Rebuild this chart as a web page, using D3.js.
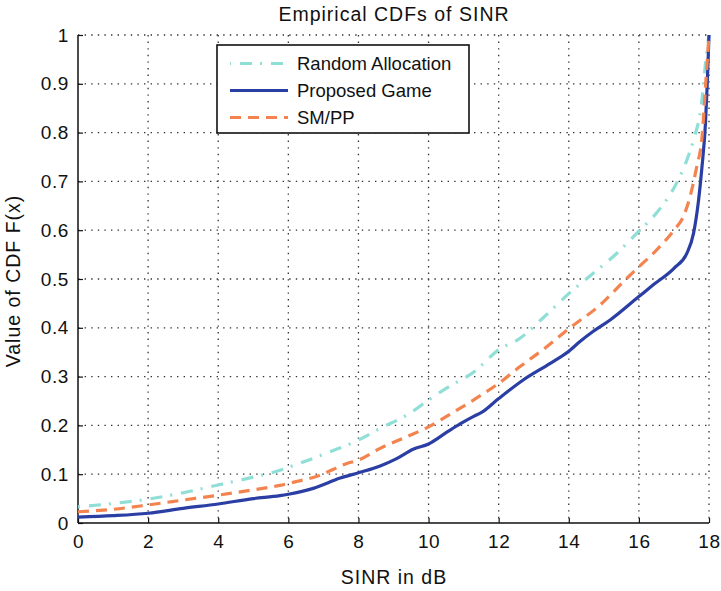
<!DOCTYPE html>
<html>
<head>
<meta charset="utf-8">
<script src="https://cdnjs.cloudflare.com/ajax/libs/d3/7.8.5/d3.min.js"></script>
<style>
  body { margin: 0; background: #fff; }
  text { font-family: "Liberation Sans", Arial, sans-serif; fill: #111; }
</style>
</head>
<body>
<div id="chart"></div>
<script>
// values: [SINR dB, CDF]
var randomAllocation = [
  [0, 0.033], [1, 0.040], [2, 0.049], [3, 0.062], [4, 0.078], [5, 0.094],
  [5.76, 0.108], [6, 0.114], [7.19, 0.146], [8, 0.17], [8.62, 0.194],
  [9.38, 0.221], [10, 0.252], [10.5, 0.276], [11.3, 0.31], [12, 0.355],
  [12.6, 0.378], [13.2, 0.416], [14, 0.47], [14.7, 0.512], [15.27, 0.546],
  [16, 0.598], [16.5, 0.635], [17.07, 0.696], [17.4, 0.75], [17.56, 0.785],
  [17.8, 0.867], [17.9, 0.942], [18, 1.0]
];
var proposedGame = [
  [0, 0.012], [1, 0.015], [2, 0.020], [3, 0.030], [4, 0.039], [5, 0.050],
  [5.76, 0.056], [6, 0.059], [6.71, 0.071], [7.48, 0.092], [8, 0.103],
  [8.62, 0.117], [9.09, 0.132], [9.56, 0.151], [10, 0.162], [10.5, 0.185],
  [10.9, 0.203], [11.3, 0.219], [11.5, 0.226], [12, 0.255], [12.7, 0.293],
  [13.47, 0.327], [14, 0.352], [14.32, 0.372], [14.7, 0.393], [15.18, 0.416],
  [16, 0.464], [16.41, 0.488], [17.0, 0.522], [17.37, 0.553], [17.56, 0.594],
  [17.7, 0.66], [17.8, 0.73], [17.9, 0.82], [17.95, 0.9], [18, 1.0]
];
var smpp = [
  [0, 0.023], [1, 0.028], [2, 0.037], [3, 0.047], [4, 0.057], [5, 0.068],
  [5.76, 0.077], [6, 0.081], [6.9, 0.098], [7.67, 0.122], [8, 0.129],
  [8.62, 0.153], [9.38, 0.177], [10, 0.197], [10.5, 0.218], [11.28, 0.252],
  [12, 0.286], [12.6, 0.32], [13.37, 0.361], [14, 0.398], [14.9, 0.447],
  [15.65, 0.501], [16, 0.525], [16.5, 0.559], [17.0, 0.60], [17.27, 0.628],
  [17.46, 0.669], [17.65, 0.73], [17.8, 0.79], [17.9, 0.894], [18, 1.0]
];
var seriesNames = ["Random Allocation", "Proposed Game", "SM/PP"];
var xTicks = [0, 2, 4, 6, 8, 10, 12, 14, 16, 18];
var yTicks = [0, 0.1, 0.2, 0.3, 0.4, 0.5, 0.6, 0.7, 0.8, 0.9, 1];

var svgWidth = 721;
var svgHeight = 591;
var margin = { top: 35, right: 12, bottom: 68, left: 78 };
var width = svgWidth - margin.left - margin.right;
var height = svgHeight - margin.top - margin.bottom;

var svg = d3.select("#chart")
  .append("svg")
  .attr("width", svgWidth)
  .attr("height", svgHeight);

var chartGroup = svg.append("g")
  .attr("transform", `translate(${margin.left}, ${margin.top})`);

var xScale = d3.scaleLinear().domain([0, 18]).range([0, width]);
var yScale = d3.scaleLinear().domain([0, 1]).range([height, 0]);

// dotted grid
chartGroup.selectAll(".vgrid")
  .data(xTicks.slice(1))
  .enter()
  .append("line")
  .attr("x1", d => xScale(d)).attr("x2", d => xScale(d))
  .attr("y1", 0).attr("y2", height)
  .attr("stroke", "#333").attr("stroke-width", 1.3)
  .attr("stroke-dasharray", "1.4,5.2");

chartGroup.selectAll(".hgrid")
  .data(yTicks.slice(1))
  .enter()
  .append("line")
  .attr("x1", 0).attr("x2", width)
  .attr("y1", d => yScale(d)).attr("y2", d => yScale(d))
  .attr("stroke", "#333").attr("stroke-width", 1.3)
  .attr("stroke-dasharray", "1.4,5.2");

// axes, ticks inside like MATLAB
var bottomAxis = d3.axisBottom(xScale).tickValues(xTicks).tickSize(-5).tickPadding(14)
  .tickFormat(d3.format("d"));
var leftAxis = d3.axisLeft(yScale).tickValues(yTicks).tickSize(-5).tickPadding(14)
  .tickFormat(d => d === 0 || d === 1 ? d3.format("d")(d) : d3.format(".1f")(d));

var xg = chartGroup.append("g")
  .attr("transform", `translate(0, ${height})`)
  .call(bottomAxis);
var yg = chartGroup.append("g").call(leftAxis);

[xg, yg].forEach(function(g) {
  g.select(".domain").attr("stroke", "#111").attr("stroke-width", 1.5);
  g.selectAll(".tick line").attr("stroke", "#111").attr("stroke-width", 1.2);
  g.selectAll(".tick text")
    .attr("font-size", "19px")
    .attr("letter-spacing", "0.6px")
    .attr("fill", "#111")
    .style("font-family", "'Liberation Sans', Arial, sans-serif");
});
xg.selectAll(".domain").attr("d", `M0,0H${width}`);
yg.selectAll(".domain").attr("d", `M0,${height}V0`);
xg.selectAll(".tick text").attr("dy", "0.71em").attr("y", 12);
yg.selectAll(".tick text").attr("x", -9);

// lines
var line = d3.line()
  .x(d => xScale(d[0]))
  .y(d => yScale(d[1]))
  .curve(d3.curveMonotoneX);

var styles = [
  { data: randomAllocation, color: "#8fdfd6", dash: "12,8,2,9", offset: 20 },
  { data: proposedGame, color: "#2b3ea3", dash: null, offset: 0 },
  { data: smpp, color: "#f4844f", dash: "11,7", offset: 0 }
];

styles.forEach(function(s) {
  chartGroup.append("path")
    .datum(s.data)
    .attr("d", line)
    .attr("fill", "none")
    .attr("stroke", s.color)
    .attr("stroke-width", 3.2)
    .attr("stroke-dasharray", s.dash)
    .attr("stroke-dashoffset", s.offset);
});

// legend
var legend = svg.append("g").attr("transform", "translate(217, 45)");
legend.append("rect")
  .attr("width", 252).attr("height", 88)
  .attr("fill", "#fff").attr("stroke", "#111").attr("stroke-width", 1.6);

seriesNames.forEach(function(name, i) {
  var yy = 18.5 + i * 27;
  legend.append("line")
    .attr("x1", 13).attr("x2", 71)
    .attr("y1", yy).attr("y2", yy)
    .attr("stroke", styles[i].color)
    .attr("stroke-width", 3.2)
    .attr("stroke-dasharray", styles[i].dash)
    .attr("stroke-dashoffset", i === 0 ? 21 : 0);
  legend.append("text")
    .attr("x", 80).attr("y", yy + 6.5)
    .attr("font-size", "18.5px")
    .text(name);
});

// title and axis labels
svg.append("text")
  .attr("x", 394).attr("y", 21)
  .attr("text-anchor", "middle")
  .attr("font-size", "19.5px")
  .attr("letter-spacing", "1px")
  .text("Empirical CDFs of SINR");

svg.append("text")
  .attr("x", 394).attr("y", 584)
  .attr("text-anchor", "middle")
  .attr("font-size", "19.5px")
  .attr("letter-spacing", "1px")
  .text("SINR in dB");

svg.append("text")
  .attr("transform", "translate(20, 281) rotate(-90)")
  .attr("text-anchor", "middle")
  .attr("font-size", "19.5px")
  .attr("letter-spacing", "1px")
  .text("Value of CDF F(x)");
</script>
</body>
</html>
